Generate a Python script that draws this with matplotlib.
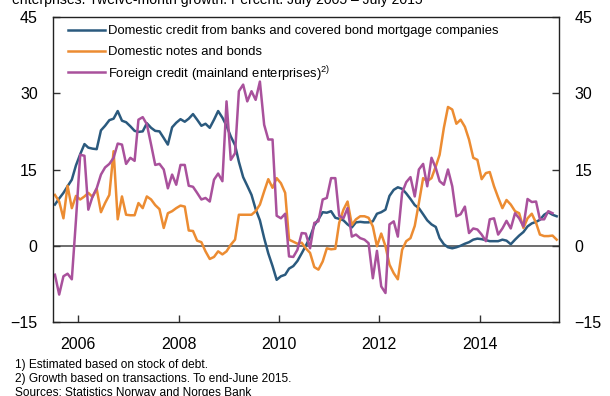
import numpy as np
import pandas as pd
import matplotlib
matplotlib.use('Agg')
import matplotlib.pyplot as plt
import matplotlib.dates as mdates
from matplotlib.lines import Line2D

plt.rcParams['font.family'] = ['Liberation Sans', 'DejaVu Sans']
plt.rcParams['mathtext.fontset'] = 'custom'
plt.rcParams['mathtext.rm'] = 'Liberation Sans'

# Monthly data, July 2005 - July 2015 (twelve-month growth, percent)
months = pd.date_range('2005-07-01', periods=121, freq='MS') + pd.Timedelta(days=14)

domestic_credit = [
    8.1, 9.3, 10.4, 11.7, 13.0, 15.8, 18.0, 20.0, 19.3, 19.1,
    19.0, 22.7, 23.6, 24.7, 25.0, 26.5, 24.6, 24.3, 23.5, 22.6,
    22.4, 22.5, 24.1, 23.2, 22.6, 22.5, 21.2, 19.9, 23.3, 24.2,
    24.9, 24.4, 25.0, 25.9, 24.8, 23.6, 24.0, 23.2, 24.8, 26.5,
    25.2, 23.6, 21.5, 19.8, 16.5, 13.5, 11.8, 10.0, 7.2, 5.0,
    1.5, -1.5, -4.0, -6.7, -6.0, -5.7, -4.5, -4.0, -3.0, -1.5,
    0.0, 1.7, 4.0, 5.2, 6.6, 6.5, 6.8, 5.5, 5.3, 5.0,
    4.2, 3.6, 4.6, 4.7, 4.6, 4.6, 4.8, 6.3, 6.6, 7.1,
    9.8, 11.0, 11.5, 11.2, 10.3, 9.2, 8.0, 7.4, 6.2, 5.0,
    4.2, 3.7, 1.5, 0.3, -0.3, -0.5, -0.3, 0.0, 0.4, 0.7,
    1.2, 1.4, 1.3, 1.1, 0.9, 0.9, 0.9, 1.2, 1.0, 0.3,
    1.2, 2.0, 2.7, 3.8, 4.4, 4.7, 5.1, 6.1, 6.6, 6.1,
    5.8,
]

notes_bonds = [
    10.0, 8.7, 5.4, 11.8, 7.4, 9.8, 9.1, 9.7, 10.4, 9.6,
    11.2, 6.6, 8.4, 10.0, 18.6, 5.2, 9.7, 6.1, 6.0, 6.0,
    8.4, 7.4, 9.7, 9.1, 8.0, 7.2, 3.5, 6.4, 6.8, 7.4,
    7.9, 7.7, 3.0, 2.9, 1.0, 0.7, -1.1, -2.6, -2.2, -1.1,
    -1.7, -1.1, 0.2, 1.2, 6.1, 6.1, 6.1, 6.1, 6.8, 8.1,
    10.7, 13.1, 11.4, 13.3, 12.3, 10.4, 1.2, 0.8, 0.4, 0.6,
    -0.5, -1.4, -4.2, -4.7, -3.1, -0.5, -0.7, -0.6, 4.5, 7.1,
    8.7, 4.1, 5.2, 5.8, 5.8, 5.5, 3.8, -0.1, 2.4, -0.1,
    -3.7, -5.4, -6.6, -0.8, 0.9, 1.5, 3.9, 8.4, 13.3, 12.7,
    13.3, 15.6, 17.9, 23.2, 27.3, 26.8, 24.0, 24.8, 23.4, 20.9,
    17.3, 16.9, 13.1, 14.3, 14.5, 11.7, 9.5, 7.4, 9.0, 8.1,
    6.8, 6.4, 3.5, 5.4, 6.3, 4.5, 2.2, 1.9, 1.9, 2.0,
    1.2,
]

# Foreign credit ends June 2015
foreign_credit = [
    -5.7, -9.6, -6.0, -5.5, -6.6, 5.0, 17.9, 17.7, 7.1, 9.7,
    11.3, 14.0, 15.4, 16.1, 17.3, 20.1, 19.9, 16.1, 17.3, 16.7,
    24.8, 25.3, 23.9, 19.9, 15.9, 16.1, 15.0, 11.3, 14.0, 12.0,
    15.9, 15.9, 11.8, 11.6, 10.4, 9.1, 9.4, 8.7, 13.0, 14.2,
    12.7, 28.4, 16.9, 18.2, 30.4, 31.7, 28.4, 30.4, 28.7, 32.3,
    23.8, 20.9, 20.9, 5.9, 5.4, 6.3, -2.1, -2.2, -0.8, 2.5,
    2.4, -0.5, 4.5, 4.8, 9.1, 9.4, 13.3, 13.3, 5.9, 5.4,
    7.4, 1.8, 2.2, 1.5, 1.2, 0.5, -6.4, -1.0, -8.0, -9.3,
    4.2, 4.8, 1.8, 10.4, 12.5, 13.5, 9.7, 15.0, 16.1, 11.7,
    17.3, 15.3, 12.7, 12.0, 15.0, 11.7, 5.8, 6.2, 7.7, 2.5,
    3.4, 3.2, 2.2, 0.9, 5.2, 5.4, 2.2, 3.4, 4.9, 3.4,
    6.4, 5.4, 3.8, 9.2, 8.6, 8.7, 5.2, 5.2, 6.8, 6.4,
    np.nan,
]

labels = [
    'Domestic credit from banks and covered bond mortgage companies',
    'Domestic notes and bonds',
    r'Foreign credit (mainland enterprises)$^{\mathrm{2)}}$',
]
colors = ['#2b5a7e', '#ec8c32', '#a9519c']

W, H = 610, 396
fig = plt.figure(figsize=(W / 100, H / 100), dpi=100)
ax = fig.add_axes([53 / W, 1 - 322 / H, 506 / W, 305 / H])

ax.axhline(0, color='#555555', lw=1.2, zorder=1)
for series, col in zip([domestic_credit, notes_bonds, foreign_credit], colors):
    ax.plot(months, series, color=col, lw=1.8, zorder=2)

ax.set_xlim(pd.Timestamp('2005-07-01'), pd.Timestamp('2015-08-01'))
ax.set_ylim(-15, 45)
ax.set_yticks([-15, 0, 15, 30, 45])
ax.set_yticklabels(['\u221215', '0', '15', '30', '45'])
ax.xaxis.set_major_locator(mdates.YearLocator(2))
ax.xaxis.set_major_formatter(mdates.DateFormatter('%Y'))

ax.tick_params(axis='both', direction='in', length=5, width=1, labelsize=11.5,
               color='#333333')
ax.tick_params(axis='y', left=True, right=True, labelleft=True, labelright=True, pad=11)
ax.tick_params(axis='x', pad=11)
for s in ax.spines.values():
    s.set_linewidth(1.0)
    s.set_color('#222222')

# legend drawn by hand (no frame)
for k, (lab, col) in enumerate(zip(labels, colors)):
    yc = 1 - (29.5 + 21 * k) / H
    fig.add_artist(Line2D([68 / W, 105 / W], [yc, yc], color=col, lw=1.8,
                          transform=fig.transFigure))
    fig.text(108 / W, yc, lab, fontsize=9.4, va='center_baseline', ha='left')

fig.text(12 / W, 1 - 4 / H, 'enterprises. Twelve-month growth. Percent. July 2005 \u2013 July 2015',
         fontsize=10.1, va='baseline', ha='left')

notes = ['1) Estimated based on stock of debt.',
         '2) Growth based on transactions. To end-June 2015.',
         'Sources: Statistics Norway and Norges Bank']
for k, t in enumerate(notes):
    fig.text(15 / W, 1 - (368 + 14 * k) / H, t, fontsize=8.6, va='baseline', ha='left')

fig.savefig('out.png', dpi=100)
